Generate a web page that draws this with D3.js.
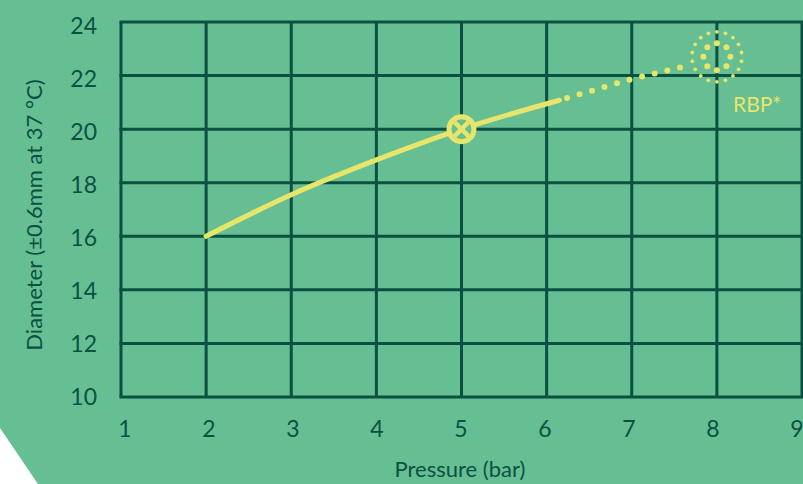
<!DOCTYPE html>
<html>
<head>
<meta charset="utf-8">
<script src="https://cdn.jsdelivr.net/npm/d3@7"></script>
<style>
  html, body { margin: 0; padding: 0; background: #fff; }
  svg { display: block; }
  text { font-family: Lato, "Open Sans", sans-serif; font-weight: 400; }
</style>
</head>
<body>
<div id="chart"></div>
<script>
const width = 803;
const height = 484;

// data
const xTicks = [1, 2, 3, 4, 5, 6, 7, 8, 9];
const yTicks = [10, 12, 14, 16, 18, 20, 22, 24];
const solidX = [2, 3, 4, 5, 6.15];
const solidY = [16, 17.55, 18.85, 20, 21.08];
const dottedX = [6.15, 6.6, 7, 7.3, 7.65];
const dottedY = [21.08, 21.5, 21.87, 22.1, 22.37];
const markPoint = [5, 20];
const rbpPoint = [8, 22.7];
const rbpLabel = "RBP*";

const bg = "#66be93";
const ink = "#0b5141";
const yellow = "#e8e56b";

const x = d3.scaleLinear().domain([1, 9]).range([121, 802]);
const y = d3.scaleLinear().domain([10, 24]).range([397, 22]);
// tick labels sit on a slightly tighter spacing than the grid
const xLabel = d3.scaleLinear().domain([1, 9]).range([125, 797]);
const yLabel = d3.scaleLinear().domain([10, 24]).range([396, 25]);

const svg = d3.select("#chart")
    .append("svg")
    .attr("width", width)
    .attr("height", height);

svg.append("rect")
    .attr("width", width)
    .attr("height", height)
    .attr("fill", bg);

// white corner cut bottom-left
svg.append("polygon")
    .attr("points", "0,428 38,484 0,484")
    .attr("fill", "#fff");

// grid
svg.append("g")
    .selectAll("line")
    .data(xTicks)
    .enter()
    .append("line")
    .attr("x1", d => x(d))
    .attr("x2", d => x(d))
    .attr("y1", y(24))
    .attr("y2", y(10))
    .attr("stroke", ink)
    .attr("stroke-width", 3);

svg.append("g")
    .selectAll("line")
    .data(yTicks)
    .enter()
    .append("line")
    .attr("x1", x(1) - 1.5)
    .attr("x2", x(9) + 1.5)
    .attr("y1", d => y(d))
    .attr("y2", d => y(d))
    .attr("stroke", ink)
    .attr("stroke-width", 3);

// tick labels
svg.append("g")
    .selectAll("text")
    .data(yTicks)
    .enter()
    .append("text")
    .text(d => d)
    .attr("x", 97)
    .attr("y", d => yLabel(d) + 8.5)
    .attr("text-anchor", "end")
    .attr("font-size", "23px")
    .attr("fill", ink);

svg.append("g")
    .selectAll("text")
    .data(xTicks)
    .enter()
    .append("text")
    .text(d => d)
    .attr("x", d => xLabel(d))
    .attr("y", 437)
    .attr("text-anchor", "middle")
    .attr("font-size", "23px")
    .attr("fill", ink);

// axis titles
svg.append("text")
    .text("Pressure (bar)")
    .attr("x", 460)
    .attr("y", 477)
    .attr("text-anchor", "middle")
    .attr("font-size", "22px")
    .attr("fill", ink);

svg.append("text")
    .text("Diameter (\u00b10.6mm at 37 \u00b0C)")
    .attr("transform", "translate(34,215) rotate(-90)")
    .attr("dy", ".35em")
    .attr("text-anchor", "middle")
    .attr("font-size", "22px")
    .attr("fill", ink);

// solid curve
const line = d3.line()
    .x(d => x(d[0]))
    .y(d => y(d[1]))
    .curve(d3.curveMonotoneX);

svg.append("path")
    .datum(solidX.map((d, i) => [d, solidY[i]]))
    .attr("d", line)
    .attr("fill", "none")
    .attr("stroke", yellow)
    .attr("stroke-width", 5)
    .attr("stroke-linecap", "round");

// dotted continuation
svg.append("path")
    .datum(dottedX.map((d, i) => [d, dottedY[i]]))
    .attr("d", line)
    .attr("fill", "none")
    .attr("stroke", yellow)
    .attr("stroke-width", 6)
    .attr("stroke-linecap", "round")
    .attr("stroke-dasharray", "0 13")
    .attr("stroke-dashoffset", -8);

// RBP cluster: two rings of dots
const cx = x(rbpPoint[0]);
const cy = y(rbpPoint[1]);
const rings = [
    { r: 25, n: 18, dot: 1.9 },
    { r: 13.5, n: 8, dot: 3 }
];
rings.forEach(ring => {
    svg.append("g")
        .selectAll("circle")
        .data(d3.range(ring.n))
        .enter()
        .append("circle")
        .attr("cx", i => cx + ring.r * Math.cos(i / ring.n * 2 * Math.PI - Math.PI / 2))
        .attr("cy", i => cy + ring.r * Math.sin(i / ring.n * 2 * Math.PI - Math.PI / 2))
        .attr("r", ring.dot)
        .attr("fill", yellow);
});

svg.append("text")
    .text(rbpLabel)
    .attr("x", 733)
    .attr("y", 112)
    .attr("font-size", "21px")
    .attr("fill", yellow);

// marker at nominal point
const mx = x(markPoint[0]);
const my = y(markPoint[1]);
const marker = svg.append("g").attr("transform", `translate(${mx},${my})`);
marker.append("circle")
    .attr("r", 12.5)
    .attr("fill", bg)
    .attr("stroke", yellow)
    .attr("stroke-width", 5);
marker.append("path")
    .attr("d", "M-7,-7L7,7M7,-7L-7,7")
    .attr("stroke", yellow)
    .attr("stroke-width", 4.5);
</script>
</body>
</html>
